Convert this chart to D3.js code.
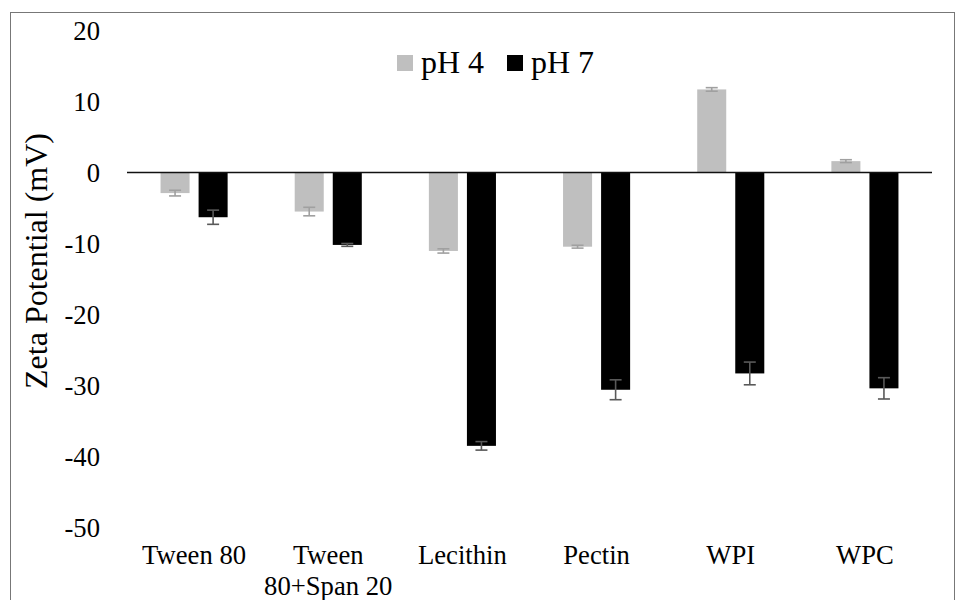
<!DOCTYPE html>
<html>
<head>
<meta charset="utf-8">
<script src="https://cdn.jsdelivr.net/npm/d3@7"></script>
</head>
<body style="margin:0">
<svg id="chart"></svg>
<script>
var categories = ["Tween 80", "Tween 80+Span 20", "Lecithin", "Pectin", "WPI", "WPC"];
var series = ["pH 4", "pH 7"];
var ph4 = [-2.9, -5.5, -11.05, -10.45, 11.7, 1.6];
var ph4Err = [0.4, 0.6, 0.3, 0.2, 0.25, 0.2];
var ph7 = [-6.3, -10.2, -38.5, -30.6, -28.3, -30.4];
var ph7Err = [1.0, 0.2, 0.6, 1.4, 1.6, 1.5];
var yTicks = [20, 10, 0, -10, -20, -30, -40, -50];

var colors = { "pH 4": "#bfbfbf", "pH 7": "#000000" };
var errColors = { "pH 4": "#a0a0a0", "pH 7": "#595959" };
var serif = "Liberation Serif";

var width = 956;
var height = 600;

var svg = d3.select("#chart")
  .attr("width", width)
  .attr("height", height);

// outer frame
svg.append("rect")
  .attr("x", 10.5)
  .attr("y", 12.5)
  .attr("width", 944)
  .attr("height", 600)
  .attr("fill", "none")
  .attr("stroke", "#777")
  .attr("stroke-width", 1);

var x0 = d3.scaleBand()
  .domain(categories)
  .range([127, 932]);

var x1 = d3.scaleBand()
  .domain(series)
  .range([x0.bandwidth() * 0.25, x0.bandwidth() * 0.75])
  .paddingInner(0.237);

var y = d3.scaleLinear()
  .domain([-50, 20])
  .range([527.5, 30.5]);

// build rows for the bars
var rows = [];
categories.forEach(function(c, i) {
  rows.push({ cat: c, s: "pH 4", v: ph4[i], e: ph4Err[i] });
  rows.push({ cat: c, s: "pH 7", v: ph7[i], e: ph7Err[i] });
});

// y tick labels (plain hyphen like the original)
var yAxis = svg.append("g")
  .attr("transform", "translate(100,0)")
  .call(d3.axisLeft(y).tickValues(yTicks).tickSize(0).tickPadding(0)
    .tickFormat(d => String(d)));
yAxis.select(".domain").remove();
yAxis.attr("font-family", serif).attr("font-size", 26.67);
yAxis.selectAll("text")
  .attr("font-family", serif)
  .attr("font-size", 26.67)
  .attr("fill", "#000")
  .attr("dy", "0.34em");

// bars
svg.selectAll("rect.bar")
  .data(rows)
  .enter()
  .append("rect")
  .attr("class", "bar")
  .attr("x", d => x0(d.cat) + x1(d.s))
  .attr("width", x1.bandwidth())
  .attr("y", d => y(Math.max(0, d.v)))
  .attr("height", d => Math.abs(y(d.v) - y(0)))
  .attr("fill", d => colors[d.s]);

// error bars
var eb = svg.selectAll("g.err")
  .data(rows)
  .enter()
  .append("g")
  .attr("class", "err")
  .attr("stroke", d => errColors[d.s])
  .attr("stroke-width", 1.6);

eb.append("line")
  .attr("x1", d => x0(d.cat) + x1(d.s) + x1.bandwidth() / 2)
  .attr("x2", d => x0(d.cat) + x1(d.s) + x1.bandwidth() / 2)
  .attr("y1", d => y(d.v - d.e))
  .attr("y2", d => y(d.v + d.e));

eb.selectAll("line.cap")
  .data(d => [d.v - d.e, d.v + d.e].map(v => ({ d: d, v: v })))
  .enter()
  .append("line")
  .attr("class", "cap")
  .attr("x1", p => x0(p.d.cat) + x1(p.d.s) + x1.bandwidth() / 2 - 6)
  .attr("x2", p => x0(p.d.cat) + x1(p.d.s) + x1.bandwidth() / 2 + 6)
  .attr("y1", p => y(p.v))
  .attr("y2", p => y(p.v));

// zero line
svg.append("line")
  .attr("x1", x0.range()[0])
  .attr("x2", x0.range()[1])
  .attr("y1", y(0))
  .attr("y2", y(0))
  .attr("stroke", "#111")
  .attr("stroke-width", 1.6);

// category labels; the long one breaks over two lines
var catLines = {
  "Tween 80+Span 20": ["Tween", "80+Span 20"]
};

svg.selectAll("text.cat")
  .data(categories)
  .enter()
  .append("text")
  .attr("class", "cat")
  .attr("x", d => x0(d) + x0.bandwidth() / 2)
  .attr("y", 564)
  .attr("text-anchor", "middle")
  .attr("font-size", 26.67)
  .attr("font-family", serif)
  .attr("fill", "#000")
  .each(function(d) {
    var t = d3.select(this);
    var lines = catLines[d] || [d];
    lines.forEach(function(l, i) {
      t.append("tspan")
        .attr("x", x0(d) + x0.bandwidth() / 2)
        .attr("dy", i === 0 ? 0 : "1.16em")
        .text(l);
    });
  });

// axis title
svg.append("text")
  .attr("transform", "translate(47,261) rotate(-90)")
  .attr("text-anchor", "middle")
  .attr("font-size", 32)
  .attr("font-family", serif)
  .attr("fill", "#000")
  .text("Zeta Potential (mV)");

// legend
var legendX = [397, 507];
var legend = svg.selectAll("g.legend")
  .data(series)
  .enter()
  .append("g")
  .attr("class", "legend")
  .attr("transform", (d, i) => "translate(" + legendX[i] + ",55)");

legend.append("rect")
  .attr("width", 16)
  .attr("height", 16)
  .attr("fill", d => colors[d]);

legend.append("text")
  .attr("x", 24)
  .attr("y", 18)
  .attr("font-size", 32)
  .attr("font-family", serif)
  .attr("fill", "#000")
  .text(d => d);
</script>
</body>
</html>
